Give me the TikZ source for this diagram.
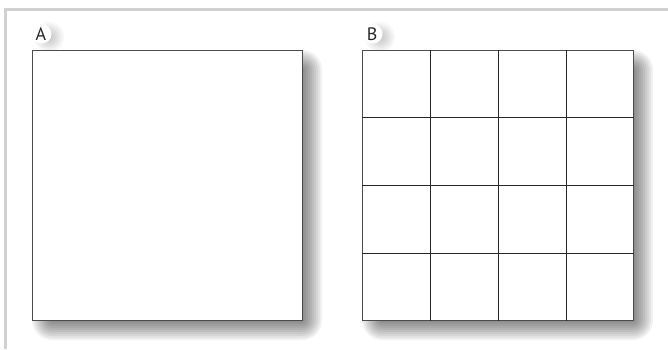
\documentclass[tikz,border=0pt]{standalone}
\usepackage{fontspec}
\setmainfont{PT Sans}
\usetikzlibrary{calc}
\begin{document}
\begin{tikzpicture}[x=1pt,y=-1pt,
  frameline/.style={draw=black!18,line width=3pt},
  sheet/.style={draw=black!70,line width=1.1pt,fill=white,inner sep=0pt,anchor=north west},
  gridline/.style={draw=black!85,line width=0.9pt},
  lab/.style={inner sep=0pt,font=\fontsize{18}{18}\selectfont,text=black!85}]
\useasboundingbox (0,0) rectangle (668,349);
\fill[white] (0,0) rectangle (668,349);
\coordinate (fl) at (5.5,349);
\coordinate (fc) at (5.5,9.5);
\coordinate (fr) at (668,9.5);
\draw[frameline] (fl) -- (fc) -- (fr);
% shadows (layered blur)
\foreach \x/\w in {42/270, 372/271}{
  \foreach \e in {-10,-8,...,10}{
    \fill[black,fill opacity=0.055,rounded corners={10+\e}]
      (\x-\e,60-\e) rectangle (\x+\w+\e,330+\e);
  }
}
\foreach \cx in {49, 380}{
  \foreach \r in {3,5,...,15}{
    \fill[black,fill opacity=0.03] (\cx,37) circle (\r);
  }
  \fill[white] (\cx-7,34) circle (9.5);
}
% A
\node[sheet,minimum width=270pt,minimum height=270pt] (A) at (32,50) {};
\node[lab] (la) at (41,34) {A};
% B
\node[sheet,minimum width=271pt,minimum height=270pt] (B) at (362,50) {};
\foreach \i in {1,2,3}{
  \draw[gridline] ($(B.north west)!\i/4!(B.north east)$) -- ($(B.south west)!\i/4!(B.south east)$);
  \draw[gridline] ($(B.north west)!\i/4!(B.south west)$) -- ($(B.north east)!\i/4!(B.south east)$);
}
\node[lab] (lb) at (372,34) {B};
\end{tikzpicture}
\end{document}
